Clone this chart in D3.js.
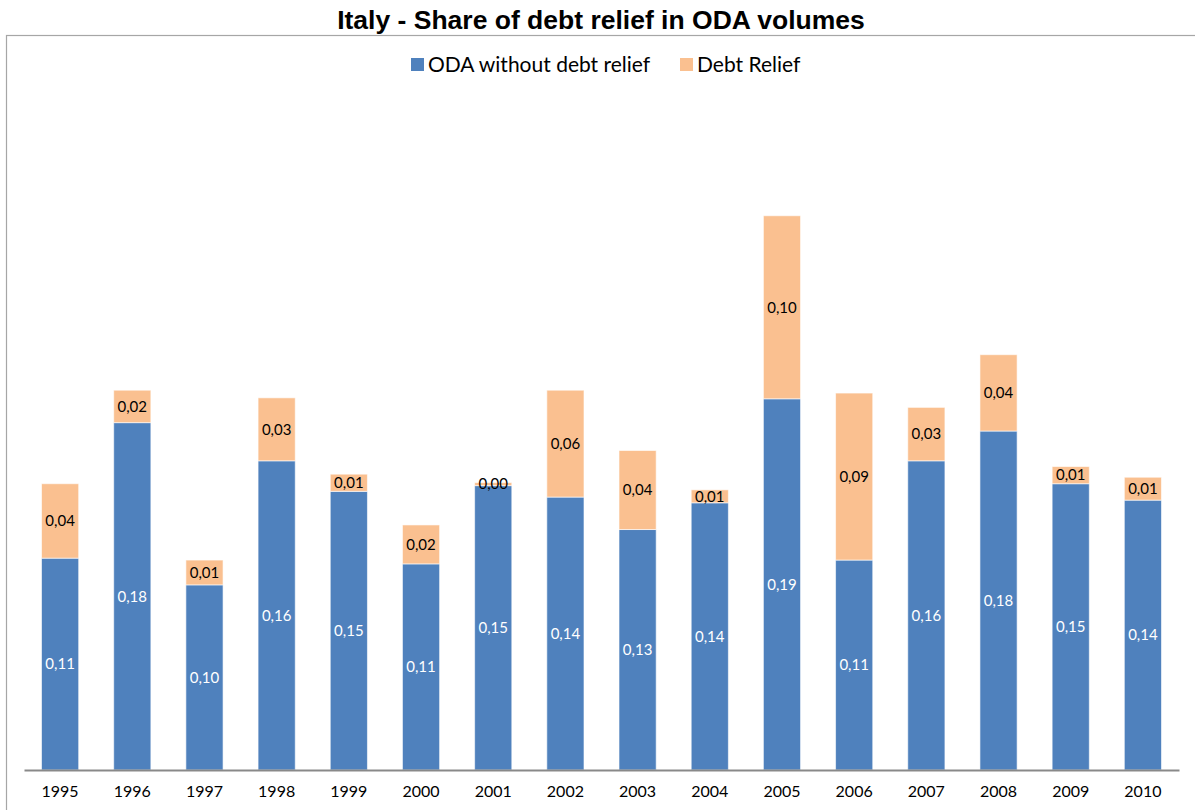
<!DOCTYPE html>
<html><head><meta charset="utf-8">
<script src="https://cdn.jsdelivr.net/npm/d3@7"></script>
<style>body{margin:0;background:#fff}svg{display:block}</style>
</head><body>
<svg id="c" width="1195" height="810"></svg>
<script>
const years = ["1995","1996","1997","1998","1999","2000","2001","2002","2003","2004","2005","2006","2007","2008","2009","2010"];
const odaWithoutDebt = [0.111,0.182,0.097,0.162,0.146,0.108,0.149,0.143,0.126,0.140,0.1945,0.110,0.162,0.1776,0.150,0.1414];
const debtRelief = [0.039,0.017,0.013,0.033,0.009,0.0204,0.0016,0.056,0.0414,0.0068,0.0959,0.0875,0.028,0.040,0.009,0.012];
const seriesNames = ["ODA without debt relief","Debt Relief"];
const colors = ["#4F81BD","#FAC090"];
const labelColors = ["#ffffff","#000000"];

const svg = d3.select("#c");
const font = "Lato, 'Open Sans', sans-serif";

// frame
svg.append("rect").attr("x",6.5).attr("y",35.5).attr("width",1250).attr("height",850)
  .attr("fill","none").attr("stroke","#a6a6a6").attr("stroke-width",1.2);

// title
svg.append("text").attr("x",601).attr("y",29).attr("text-anchor","middle")
  .attr("font-family","'Liberation Sans', Arial, sans-serif").attr("font-weight","bold")
  .attr("font-size",26.5).attr("fill","#000").text("Italy - Share of debt relief in ODA volumes");

const x = d3.scaleBand().domain(years).range([24,1179]).paddingInner(0.485).paddingOuter(0.2425);
const y = d3.scaleLinear().domain([0,0.35]).range([770,102]);

const data = years.map((yr,i)=>({year:yr, a:odaWithoutDebt[i], b:debtRelief[i]}));
const stack = d3.stack().keys(["a","b"])(data);

const g = svg.append("g");
stack.forEach((layer,li)=>{
  g.selectAll(null).data(layer).enter().append("rect")
    .attr("x",d=>x(d.data.year)).attr("width",x.bandwidth())
    .attr("y",d=>y(d[1])).attr("height",d=>y(d[0])-y(d[1]))
    .attr("fill",colors[li]).attr("stroke","#ffffff").attr("stroke-opacity",0.6).attr("stroke-width",1);
});
stack.forEach((layer,li)=>{
  g.selectAll(null).data(layer).enter().append("text")
    .attr("x",d=>x(d.data.year)+x.bandwidth()/2)
    .attr("y",d=>(y(d[0])+y(d[1]))/2)
    .attr("dy","0.35em").attr("text-anchor","middle")
    .attr("font-family",font).attr("font-size",15).attr("fill",labelColors[li])
    .text(d=>(d[1]-d[0]).toFixed(2).replace(".",","));
});

// axis
const ax = svg.append("g").attr("transform","translate(0,770)").call(d3.axisBottom(x).tickSize(0).tickPadding(16));
ax.select(".domain").attr("stroke","#898989").attr("stroke-width",2);
ax.selectAll("text").attr("font-family",font).attr("font-size",16).attr("fill","#000");

// legend
const leg = svg.append("g");
const legX = [411,680];
seriesNames.forEach((n,i)=>{
  leg.append("rect").attr("x",legX[i]).attr("y",58).attr("width",13).attr("height",13).attr("fill",colors[i]);
  leg.append("text").attr("x",legX[i]+17).attr("y",64.5).attr("dy","0.35em")
    .attr("font-family",font).attr("font-size",21).attr("fill","#000").text(n);
});
</script>
</body></html>
